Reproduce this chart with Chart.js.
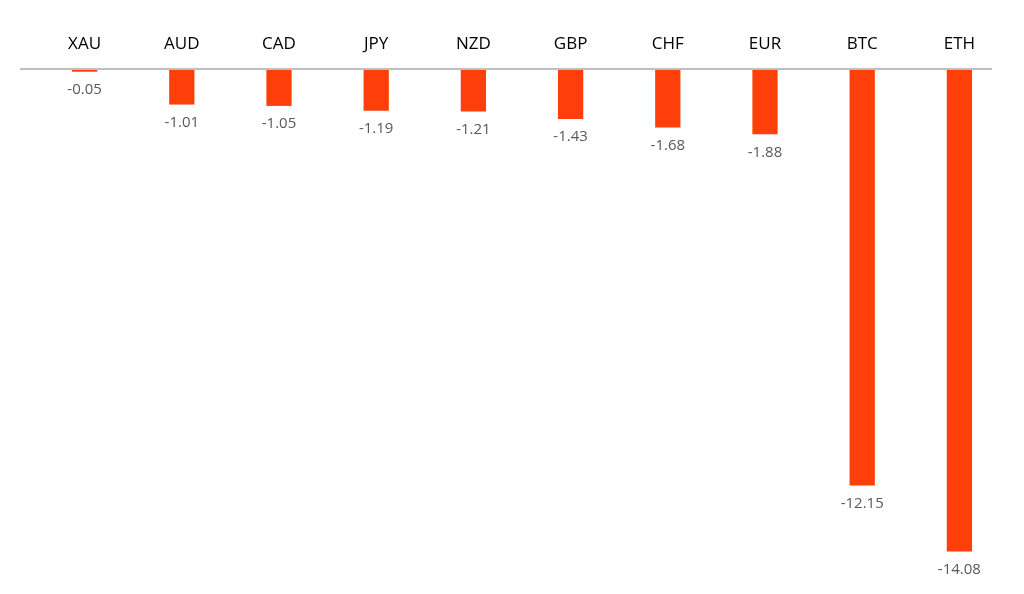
<!DOCTYPE html>
<html>
<head>
<meta charset="utf-8">
<script src="https://cdn.jsdelivr.net/npm/chart.js@4/dist/chart.umd.min.js"></script>
<style>
  html, body { margin: 0; padding: 0; background: #ffffff; }
  #wrap { width: 1024px; height: 594px; }
</style>
</head>
<body>
<div id="wrap"><canvas id="c" width="1024" height="594"></canvas></div>
<script>
const categories = ["XAU", "AUD", "CAD", "JPY", "NZD", "GBP", "CHF", "EUR", "BTC", "ETH"];
const changes = [-0.05, -1.01, -1.05, -1.19, -1.21, -1.43, -1.68, -1.88, -12.15, -14.08];
const valueLabels = ["-0.05", "-1.01", "-1.05", "-1.19", "-1.21", "-1.43", "-1.68", "-1.88", "-12.15", "-14.08"];

const labelsPlugin = {
  id: "customLabels",
  beforeDatasetsDraw(chart) {
    const ctx = chart.ctx;
    const y0 = chart.scales.y.getPixelForValue(0);
    ctx.save();
    ctx.strokeStyle = "#BFBFBF";
    ctx.lineWidth = 2;
    ctx.beginPath();
    ctx.moveTo(20, y0 - 1);
    ctx.lineTo(992, y0 - 1);
    ctx.stroke();
    ctx.restore();
  },
  afterDatasetsDraw(chart) {
    const ctx = chart.ctx;
    const xs = chart.scales.x;
    const ys = chart.scales.y;
    const y0 = ys.getPixelForValue(0);
    ctx.save();
    ctx.fillStyle = "#000000";
    ctx.font = "17px 'Open Sans', sans-serif";
    ctx.textAlign = "center";
    ctx.textBaseline = "middle";
    categories.forEach((c, i) => {
      ctx.fillText(c, xs.getPixelForValue(i), 44);
    });
    ctx.fillStyle = "#595959";
    ctx.font = "15px 'Open Sans', sans-serif";
    const meta = chart.getDatasetMeta(0);
    meta.data.forEach((bar, i) => {
      ctx.fillText(valueLabels[i], bar.x, Math.max(bar.y, y0) + 18);
    });
    ctx.restore();
  }
};

new Chart(document.getElementById("c"), {
  type: "bar",
  data: {
    labels: categories,
    datasets: [{
      data: changes,
      backgroundColor: "#FF3F0A",
      borderWidth: 0,
      barPercentage: 0.52,
      categoryPercentage: 0.5
    }]
  },
  options: {
    responsive: false,
    animation: false,
    layout: { padding: { left: 36, right: 16, top: 70, bottom: 11 } },
    plugins: { legend: { display: false }, tooltip: { enabled: false } },
    scales: {
      x: { display: false },
      y: { display: false, min: -15, max: 0 }
    }
  },
  plugins: [labelsPlugin]
});
</script>
</body>
</html>
